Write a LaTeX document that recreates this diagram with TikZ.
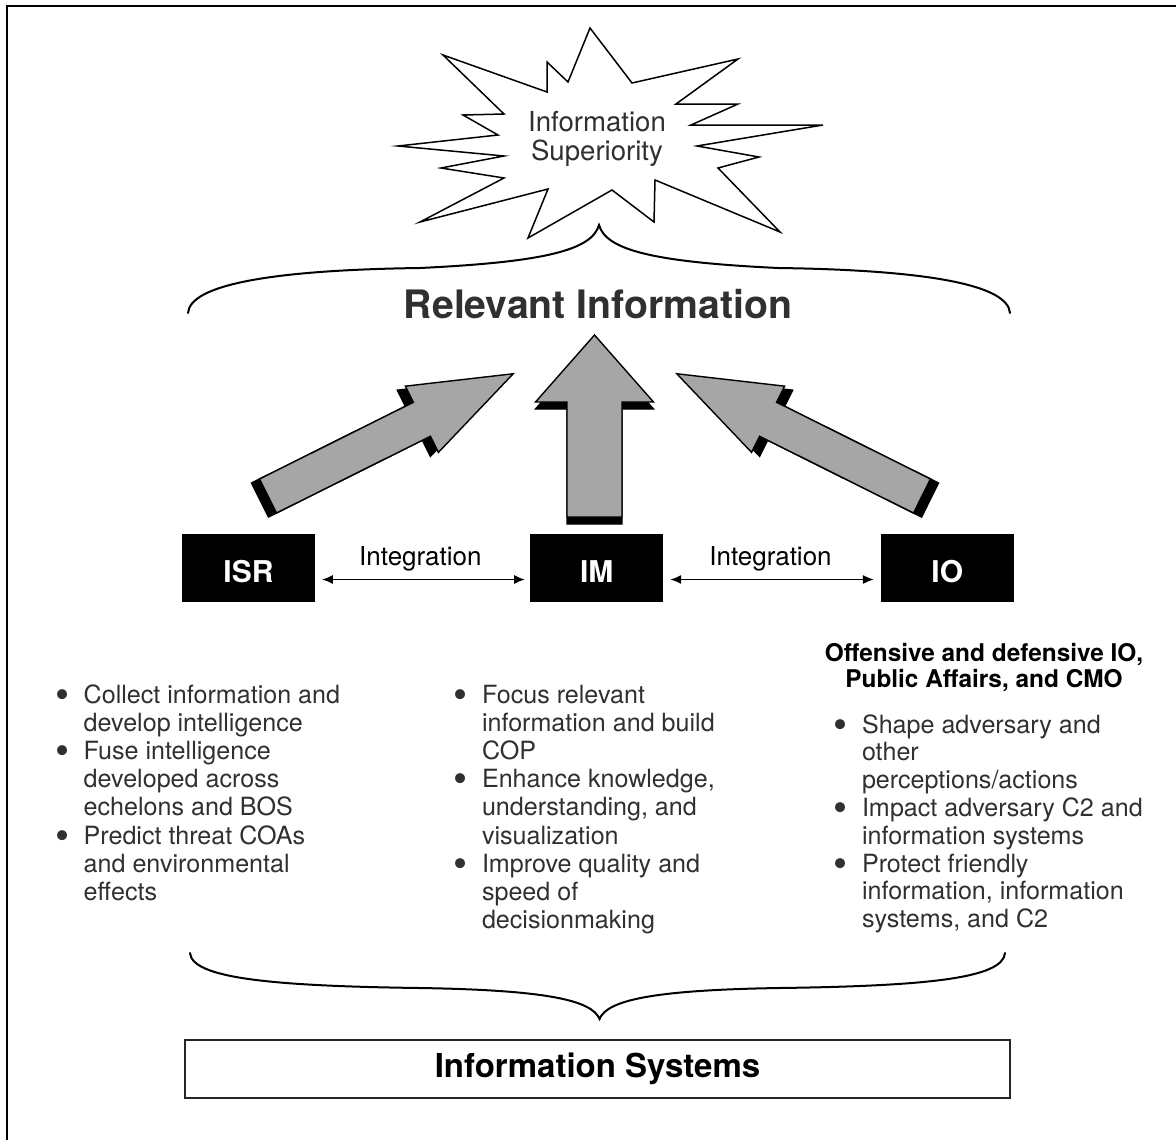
\documentclass[tikz,border=0pt]{standalone}
\usepackage{fontspec}
\usepackage{graphicx}
\setmainfont{TeX Gyre Heros}
\usetikzlibrary{arrows.meta,calc}
\definecolor{inkgray}{RGB}{48,48,48}
\definecolor{arrowfill}{RGB}{166,166,166}
% enlarged list bullet in a box of fixed width
\newcommand{\itemdot}{\makebox[14.3pt][l]{\raisebox{-2.6pt}{\scalebox{1.6}{\textbullet}}}}

\begin{document}
\begin{tikzpicture}[x=0.5pt,y=-0.5pt,
  bodytext/.style={anchor=base west, inner sep=0pt, text=inkgray,
    font=\fontsize{12.55}{14.1}\selectfont},
  rolebox/.style={fill=black, draw=black, minimum width=66pt,
    minimum height=33.5pt, inner sep=0pt},
  rolelabel/.style={text=white, inner sep=0pt,
    font=\fontsize{15}{15}\selectfont\bfseries},
  intlabel/.style={anchor=base, inner sep=0pt, text=black,
    font=\fontsize{13}{13}\selectfont},
  intarrow/.style={line width=0.9pt, {Latex[length=5.5pt,width=4.6pt]}-{Latex[length=5.5pt,width=4.6pt]}},
  bracestyle/.style={line width=1pt, line cap=round},
  blockarrow/.style={fill=arrowfill, draw=black, line width=0.7pt, line join=miter},
  arrowshadow/.style={fill=black, draw=black, line width=0.7pt, line join=miter}
]
\useasboundingbox (0,0) rectangle (1176,1140);

% partial frame
\draw[line width=1.25pt] (7,1140) -- (7,6) -- (1176,6);

% burst
\draw[line width=0.75pt, line join=miter, fill=white]
  (590,28) -- (632,83) -- (738,59) -- (676,104) -- (738,104) -- (691,125)
  -- (823,125) -- (697,146) -- (759,157) -- (718,168) -- (780,232)
  -- (655,180) -- (654,222) -- (612,190) -- (528,238) -- (548,189)
  -- (420,222) -- (504,178) -- (441,168) -- (504,156) -- (398,146)
  -- (498,135) -- (463,115) -- (504,114) -- (443,55) -- (547,92)
  -- (547,62) -- (568,82) -- cycle;
\node[anchor=base, inner sep=0pt, text=inkgray, font=\fontsize{13.8}{12.8}\selectfont]
  (superiority) at (597,131.7)
  {\begin{tabular}[t]{@{}c@{}}Information\\Superiority\end{tabular}};

% upper brace
\draw[bracestyle] (188,313) .. controls (190,285) and (270,270) .. (420,268)
  .. controls (545,262) and (592,250) .. (599,225)
  .. controls (606,250) and (653,262) .. (778,268)
  .. controls (928,270) and (1008,285) .. (1010,313);
\node[anchor=base, inner sep=0pt, text=inkgray, font=\fontsize{19.6}{19.6}\selectfont\bfseries]
  (relevant) at (598,318) {Relevant Information};

% block arrows (shadow first, then the grey body)
\begin{scope}[shift={(268,496)}, rotate=26.5]
  \draw[arrowshadow] (-9,-19) -- (163,-19) -- (163,-37) -- (265,0)
    -- (163,37) -- (163,19) -- (-9,19) -- cycle;
  \draw[blockarrow] (0,-19) -- (172,-19) -- (172,-37) -- (274,0)
    -- (172,37) -- (172,19) -- (0,19) -- cycle;
\end{scope}
\begin{scope}[shift={(594.5,517)}, rotate=90]
  \draw[arrowshadow] (-7,-27.5) -- (108,-27.5) -- (108,-59) -- (175,0)
    -- (108,59) -- (108,27.5) -- (-7,27.5) -- cycle;
  \draw[blockarrow] (0,-27.5) -- (115,-27.5) -- (115,-59) -- (182,0)
    -- (115,59) -- (115,27.5) -- (0,27.5) -- cycle;
\end{scope}
\begin{scope}[shift={(922,496)}, rotate=153.5]
  \draw[arrowshadow] (-9,-19) -- (163,-19) -- (163,-37) -- (265,0)
    -- (163,37) -- (163,19) -- (-9,19) -- cycle;
  \draw[blockarrow] (0,-19) -- (172,-19) -- (172,-37) -- (274,0)
    -- (172,37) -- (172,19) -- (0,19) -- cycle;
\end{scope}

% the three capabilities
\node[rolebox] (isr) at (248.5,567.5) {};
\node[rolebox] (im)  at (596.8,567.5) {};
\node[rolebox] (io)  at (947.3,567.5) {};
\node[rolelabel] (isrlabel) at ([yshift=-2pt]isr.center) {ISR};
\node[rolelabel] (imlabel)  at ([yshift=-2pt]im.center) {IM};
\node[rolelabel] (iolabel)  at ([yshift=-2pt]io.center) {IO};

\draw[intarrow] ([xshift=3.5pt,yshift=-6pt]isr.east) -- ([xshift=-2.7pt,yshift=-6pt]im.west);
\draw[intarrow] ([xshift=3.5pt,yshift=-6pt]im.east) -- ([xshift=-3.5pt,yshift=-6pt]io.west);
\node[intlabel] (intleft)  at (420.4,565) {Integration};
\node[intlabel] (intright) at (770.5,565) {Integration};

% task lists
\node[bodytext] (isrtasks) at (54.7,703)
  {\begin{tabular}[t]{@{}l@{}l@{}}
   \itemdot & Collect information and\\
            & develop intelligence\\
   \itemdot & Fuse intelligence\\
            & developed across\\
            & echelons and BOS\\
   \itemdot & Predict threat COAs\\
            & and environmental\\
            & effects
   \end{tabular}};
\node[bodytext] (imtasks) at (453,703)
  {\begin{tabular}[t]{@{}l@{}l@{}}
   \itemdot & Focus relevant\\
            & information and build\\
            & COP\\
   \itemdot & Enhance knowledge,\\
            & understanding, and\\
            & visualization\\
   \itemdot & Improve quality and\\
            & speed of\\
            & decisionmaking
   \end{tabular}};
\node[anchor=base, inner sep=0pt, text=black, font=\fontsize{12.2}{12.65}\selectfont\bfseries]
  (ioheading) at (984,661.7)
  {\begin{tabular}[t]{@{}c@{}}Offensive and defensive IO,\\Public Affairs, and CMO\end{tabular}};
\node[bodytext, font=\fontsize{12.55}{13.9}\selectfont] (iotasks) at (833,733)
  {\begin{tabular}[t]{@{}l@{}l@{}}
   \itemdot & Shape adversary and\\
            & other\\
            & perceptions/actions\\
   \itemdot & Impact adversary C2 and\\
            & information systems\\
   \itemdot & Protect friendly\\
            & information, information\\
            & systems, and C2
   \end{tabular}};

% lower brace
\draw[bracestyle] (190,953) .. controls (192,978) and (270,986) .. (420,988)
  .. controls (545,990) and (592,1000) .. (599.5,1019)
  .. controls (607,1000) and (654,990) .. (779,988)
  .. controls (929,986) and (1003,978) .. (1005,953);

% foundation
\node[draw=black!85, line width=0.8pt, minimum width=412.5pt, minimum height=29pt,
  inner sep=0pt, font=\fontsize{16.5}{16.5}\selectfont\bfseries]
  (infosys) at (597.5,1069) {Information Systems};
\end{tikzpicture}
\end{document}
